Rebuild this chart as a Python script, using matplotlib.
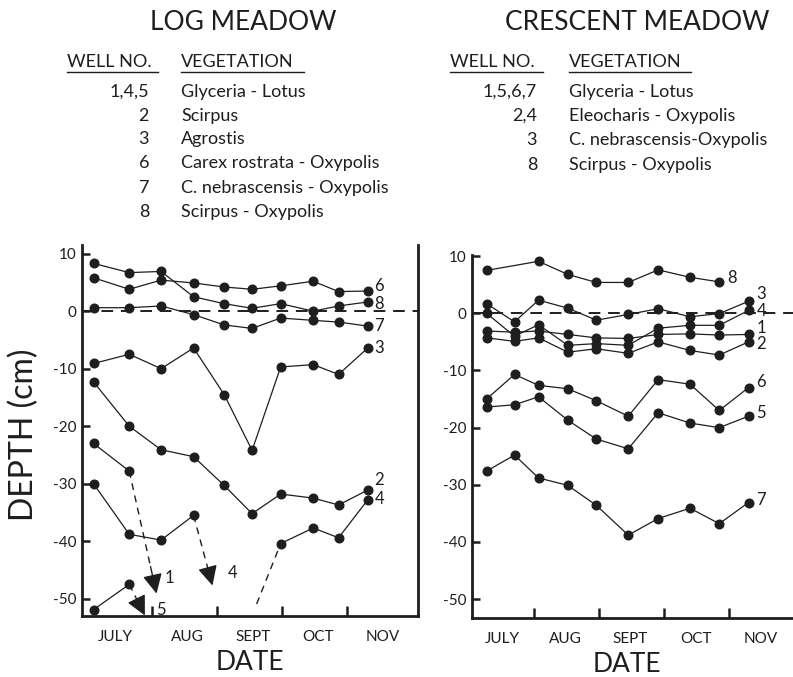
import numpy as np
import matplotlib
matplotlib.use("Agg")
import matplotlib.pyplot as plt
from matplotlib.lines import Line2D

plt.rcParams['font.family'] = ['Lato', 'DejaVu Sans']
plt.rcParams['font.weight'] = 'normal'
plt.rcParams['axes.unicode_minus'] = False

INK = '#1e1e1e'

# x in months after 1 July (0 = July 1, 1 = Aug 1, ...)
months = ["JULY", "AUG", "SEPT", "OCT", "NOV"]

# ---- Log Meadow ----
log_dates = [0.10, 0.65, 1.14, 1.64, 2.11, 2.54, 2.98, 3.48, 3.87, 4.32]
log_w8 = [8.3, 6.7, 6.9, 2.5, 1.3, 0.5, 1.3, 0.0, 0.9, 1.6]
log_w6 = [5.8, 3.8, 5.4, 4.9, 4.2, 3.8, 4.4, 5.2, 3.4, 3.5]
log_w7 = [0.6, 0.6, 0.9, -0.6, -2.4, -3.0, -1.2, -1.6, -1.9, -2.6]
log_w3 = [-9.1, -7.5, -10.0, -6.4, -14.5, -24.2, -9.7, -9.3, -11.0, -6.4]
log_w2 = [-12.3, -20.0, -24.1, -25.3, -30.3, -35.2, -31.8, -32.5, -33.7, -31.1]
log_w1 = [-23.0, -27.8]            # first two dates, then drops out of range
log_w1_tip = (1.07, -49.1)
log_w4a = [-30.0, -38.8, -39.8, -35.5]   # first four dates
log_w4_tip = (1.93, -47.7)
log_w4_back = (2.61, -50.9)
log_w4b = [-40.4, -37.7, -39.4, -32.8]   # last four dates
log_w5 = [-51.9, -47.5]
log_w5_tip = (0.89, -52.9)

log_legend_nums = ["1,4,5", "2", "3", "6", "7", "8"]
log_legend_veg = ["Glyceria - Lotus", "Scirpus", "Agrostis",
                  "Carex rostrata - Oxypolis", "C. nebrascensis - Oxypolis",
                  "Scirpus - Oxypolis"]

# ---- Crescent Meadow ----
cre_dates = [0.27, 0.70, 1.07, 1.52, 1.96, 2.45, 2.91, 3.40, 3.85, 4.30]
cre_w8 = [7.5, np.nan, 9.1, 6.8, 5.4, 5.4, 7.6, 6.3, 5.5, np.nan]
cre_w3 = [1.7, -1.5, 2.3, 0.9, -1.2, -0.2, 0.8, -0.6, -0.05, 2.1]
cre_w4 = [0.0, -4.0, -2.0, -5.6, -5.3, -5.6, -2.6, -2.1, -2.1, 0.5]
cre_w1 = [-3.1, -3.3, -3.1, -3.7, -4.3, -4.4, -3.7, -3.6, -3.8, -3.7]
cre_w2 = [-4.3, -4.9, -4.3, -6.8, -6.2, -7.0, -5.0, -6.5, -7.3, -5.0]
cre_w6 = [-15.0, -10.7, -12.6, -13.2, -15.3, -18.0, -11.6, -12.4, -17.0, -13.0]
cre_w5 = [-16.4, -16.0, -14.6, -18.7, -22.0, -23.7, -17.4, -19.2, -20.0, -18.0]
cre_w7 = [-27.6, -24.8, -28.8, -30.1, -33.6, -38.8, -35.9, -34.1, -36.8, -33.1]

cre_legend_nums = ["1,5,6,7", "2,4", "3", "8"]
cre_legend_veg = ["Glyceria - Lotus", "Eleocharis - Oxypolis",
                  "C. nebrascensis-Oxypolis", "Scirpus - Oxypolis"]

W, H = 793, 677
fig = plt.figure(figsize=(W / 100, H / 100), dpi=100)


def fx(px):
    return px / W


def fy(py):
    return 1 - py / H


def well(ax, x, y):
    x = np.asarray(x, float)
    y = np.asarray(y, float)
    m = np.isfinite(y)
    ax.plot(x[m], y[m], color=INK, lw=0.9, marker='o', ms=6.2, mfc=INK, mec=INK)


def dashed_arrow(ax, start, tip):
    s = (start[0] + 0.78 * (tip[0] - start[0]), start[1] + 0.78 * (tip[1] - start[1]))
    ax.plot([start[0], s[0]], [start[1], s[1]], color=INK, lw=1.0,
            dashes=(5, 4))
    ax.annotate('', xy=tip, xytext=s,
                arrowprops=dict(arrowstyle='-|>,head_length=0.5,head_width=0.25',
                                color=INK, lw=1.0, mutation_scale=24,
                                shrinkA=0, shrinkB=0))


def style(ax, xlim, ylim, label_pos, right_spine):
    ax.set_xlim(*xlim)
    ax.set_ylim(*ylim)
    for s in ['top', 'right']:
        ax.spines[s].set_visible(False)
    if right_spine:
        ax.spines['right'].set_visible(True)
    for s in ['left', 'bottom', 'right']:
        ax.spines[s].set_linewidth(2.0)
        ax.spines[s].set_color(INK)
    ax.set_yticks([10, 0, -10, -20, -30, -40, -50])
    ax.set_yticklabels(["10", "0", "-10", "-20", "-30", "-40", "-50"])
    ax.tick_params(axis='y', direction='in', length=6, width=1.8, pad=4,
                   labelsize=11, colors=INK, right=False)
    ax.set_xticks([1, 2, 3, 4])
    ax.set_xticklabels([])
    ax.set_xticks(label_pos, minor=True)
    ax.set_xticklabels(months, minor=True)
    ax.tick_params(axis='x', which='major', direction='in', length=7, width=1.8,
                   colors=INK)
    ax.tick_params(axis='x', which='minor', length=0, pad=10, labelsize=11,
                   colors=INK)
    ax.axhline(0, color=INK, lw=1.4, dashes=(6, 4))


# left panel
axL = fig.add_axes([fx(82), fy(616), fx(418) - fx(82), fy(245) - fy(616)])
style(axL, ((82 - 87) / 65, (418 - 87) / 65), (-53.0, 11.5),
      [0.43, 1.55, 2.55, 3.55, 4.55], True)
for w in [log_w8, log_w6, log_w7, log_w3, log_w2]:
    well(axL, log_dates, w)
well(axL, log_dates[:2], log_w1)
well(axL, log_dates[:4], log_w4a)
well(axL, log_dates[6:], log_w4b)
well(axL, log_dates[:2], log_w5)
dashed_arrow(axL, (log_dates[1], log_w1[-1]), log_w1_tip)
dashed_arrow(axL, (log_dates[3], log_w4a[-1]), log_w4_tip)
dashed_arrow(axL, (log_dates[1], log_w5[-1]), log_w5_tip)
axL.plot([log_w4_back[0], log_dates[6]], [log_w4_back[1], log_w4b[0]],
         color=INK, lw=1.0, dashes=(5, 4))
lab_kw = dict(fontsize=12, color=INK, ha='left', va='center')
for t, y in [("6", 4.4), ("8", 1.3), ("7", -2.6), ("3", -6.4), ("2", -29.4), ("4", -32.7)]:
    axL.text(4.42, y, t, **lab_kw)
axL.text(1.20, -46.4, "1", **lab_kw)
axL.text(2.17, -45.6, "4", **lab_kw)
axL.text(1.07, -52.0, "5", **lab_kw)

# right panel
axR = fig.add_axes([fx(472), fy(618), fx(793) - fx(472), fy(255) - fy(618)])
style(axR, ((472 - 469) / 65, (793 - 469) / 65), (-53.3, 10.2),
      [0.52, 1.49, 2.48, 3.49, 4.49], False)
for w in [cre_w8, cre_w3, cre_w4, cre_w1, cre_w2, cre_w6, cre_w5, cre_w7]:
    well(axR, cre_dates, w)
axR.text(3.98, 6.1, "8", **lab_kw)
for t, y in [("3", 3.3), ("4", 0.4), ("1", -2.5), ("2", -5.4), ("6", -12.0),
             ("5", -17.5), ("7", -32.7)]:
    axR.text(4.42, y, t, **lab_kw)

# headings and legends
fig.text(fx(243), fy(23), "LOG MEADOW", fontsize=19, ha='center', va='center', color=INK)
fig.text(fx(637), fy(23), "CRESCENT MEADOW", fontsize=19, ha='center', va='center', color=INK)

hdr_kw = dict(fontsize=13, va='center', color=INK)
fig.text(fx(67), fy(62), "WELL NO.", ha='left', **hdr_kw)
fig.text(fx(181), fy(62), "VEGETATION", ha='left', **hdr_kw)
fig.text(fx(450), fy(62), "WELL NO.", ha='left', **hdr_kw)
fig.text(fx(569), fy(62), "VEGETATION", ha='left', **hdr_kw)
for x0, x1 in [(67, 158), (181, 304), (450, 543), (569, 691)]:
    fig.add_artist(Line2D([fx(x0), fx(x1)], [fy(72), fy(72)], color=INK, lw=1.0,
                          transform=fig.transFigure))

rows_left = [92, 116, 139, 163, 188, 212]
for n, v, py in zip(log_legend_nums, log_legend_veg, rows_left):
    fig.text(fx(149), fy(py), n, ha='right', **hdr_kw)
    fig.text(fx(181), fy(py), v, ha='left', **hdr_kw)
rows_right = [92, 116, 140, 165]
for n, v, py in zip(cre_legend_nums, cre_legend_veg, rows_right):
    fig.text(fx(537), fy(py), n, ha='right', **hdr_kw)
    fig.text(fx(569), fy(py), v, ha='left', **hdr_kw)

fig.text(fx(24), fy(435), "DEPTH (cm)", fontsize=23, rotation=90, ha='center',
         va='center', color=INK)
fig.text(fx(250), fy(662), "DATE", fontsize=19, ha='center', va='center', color=INK)
fig.text(fx(627), fy(664), "DATE", fontsize=19, ha='center', va='center', color=INK)

fig.savefig("out.png", dpi=100)
